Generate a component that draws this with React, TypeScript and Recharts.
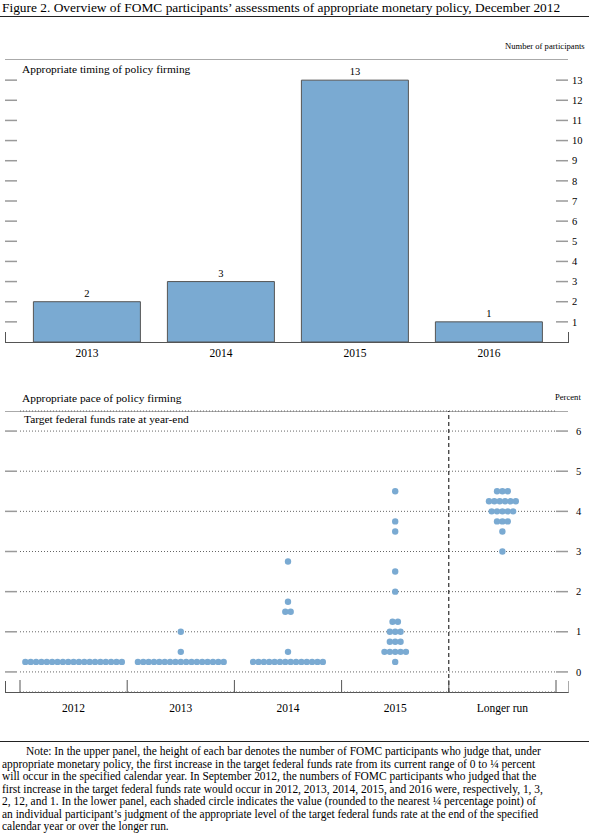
import React from 'react';
import {
  BarChart,
  Bar,
  XAxis,
  YAxis,
  LabelList,
  ScatterChart,
  Scatter,
  CartesianGrid,
  ReferenceLine,
} from 'recharts';

// upper panel: year of first increase
const timingYears = ['2013', '2014', '2015', '2016'];
const timingCounts = [2, 3, 13, 1];
const countTicks = [1, 2, 3, 4, 5, 6, 7, 8, 9, 10, 11, 12, 13];

// lower panel: [rate, number of participants]
const paceCategories = ['2012', '2013', '2014', '2015', 'Longer run'];
const dots2012: [number, number][] = [[0.25, 19]];
const dots2013: [number, number][] = [[0.25, 17], [0.5, 1], [1, 1]];
const dots2014: [number, number][] = [[0.25, 14], [0.5, 1], [1.5, 2], [1.75, 1], [2.75, 1]];
const dots2015: [number, number][] = [
  [0.25, 1], [0.5, 5], [0.75, 3], [1, 3], [1.25, 2], [2, 1], [2.5, 1], [3.5, 1], [3.75, 1], [4.5, 1],
];
const dotsLongerRun: [number, number][] = [[3, 1], [3.5, 1], [3.75, 3], [4, 5], [4.25, 6], [4.5, 3]];
const rateTicks = [0, 1, 2, 3, 4, 5, 6];

const noteLines = [
  'Note: In the upper panel, the height of each bar denotes the number of FOMC participants who judge that, under',
  'appropriate monetary policy, the first increase in the target federal funds rate from its current range of 0 to \u00BC percent',
  'will occur in the specified calendar year.  In September 2012, the numbers of FOMC participants who judged that the',
  'first increase in the target federal funds rate would occur in 2012, 2013, 2014, 2015, and 2016 were, respectively, 1, 3,',
  '2, 12, and 1.  In the lower panel, each shaded circle indicates the value (rounded to the nearest \u00BC percentage point) of',
  'an individual participant\u2019s judgment of the appropriate level of the target federal funds rate at the end of the specified',
  'calendar year or over the longer run.',
];

const FONT = '"Liberation Serif", "Times New Roman", serif';
const BLUE = '#7aaad2';
const TICK_GRAY = '#9a9a9a';
const DOT_STEP = 0.05; // horizontal spread of stacked dots, in category units

const timingData = timingYears.map((year, i) => ({ year, count: timingCounts[i] }));

const paceGroups = [dots2012, dots2013, dots2014, dots2015, dotsLongerRun];
const paceDots = paceGroups.flatMap((group, c) =>
  group.flatMap(([rate, n]) =>
    Array.from({ length: n }, (_, k) => ({ x: c + 0.5 + (k - (n - 1) / 2) * DOT_STEP, y: rate }))
  )
);

const Dot = (props: any) => <circle cx={props.cx} cy={props.cy} r={3.2} fill={BLUE} />;

// right-hand label plus the matching unlabeled mark at the left edge
const ValueTick = (props: any) => {
  const { x, y, payload } = props;
  return (
    <g>
      <line x1={5} x2={17} y1={y} y2={y} stroke={TICK_GRAY} strokeWidth={1.5} />
      <text x={x} y={y} dy="0.35em" textAnchor="start" fontSize={10.5} fill="#000" fontFamily={FONT}>
        {payload.value}
      </text>
    </g>
  );
};

// integer ticks: short upward marks at category edges; half ticks: category labels
const PaceTick = (props: any) => {
  const { x, y, payload } = props;
  const v = payload.value;
  if (Number.isInteger(v)) {
    return <line x1={x} x2={x} y1={y - 12} y2={y} stroke="#555" strokeWidth={1} />;
  }
  return (
    <text x={x} y={y + 20} textAnchor="middle" fontSize={11.5} fill="#000" fontFamily={FONT}>
      {paceCategories[Math.floor(v)]}
    </text>
  );
};

const abs = (left: number, top: number, extra: React.CSSProperties = {}): React.CSSProperties => ({
  position: 'absolute',
  left,
  top,
  ...extra,
});

export default function App() {
  return (
    <div style={{ position: 'absolute', left: 0, top: 0, width: 589, height: 834, background: '#fff', fontFamily: FONT, color: '#000', overflow: 'hidden' }}>
      <div style={abs(2, 0, { fontSize: 13.4, whiteSpace: 'nowrap' })}>
        Figure 2. Overview of FOMC participants’ assessments of appropriate monetary policy, December 2012
      </div>
      <div style={abs(0, 16, { width: 589, height: 0, borderTop: '1.5px solid #222' })} />

      {/* upper panel */}
      <div style={abs(505, 41, { fontSize: 8.6, whiteSpace: 'nowrap' })}>Number of participants</div>
      <div style={abs(5, 59, { width: 563, height: 0, borderTop: '1.5px solid #aaa' })} />
      <div style={abs(22, 63, { fontSize: 11.4, whiteSpace: 'nowrap' })}>Appropriate timing of policy firming</div>
      <div style={abs(5, 332, { width: 562, height: 10, borderLeft: '1px solid #555', borderRight: '1px solid #555', borderBottom: '1px solid #555' })} />
      <div style={abs(0, 40)}>
        <BarChart width={589} height={322} data={timingData} margin={{ top: 20, right: 0, bottom: 0, left: 20 }} barCategoryGap="10%">
          <XAxis
            dataKey="year"
            axisLine={false}
            tickLine={false}
            tickSize={0}
            tickMargin={7}
            height={20}
            tick={{ fontSize: 11.5, fill: '#000', fontFamily: FONT }}
          />
          <YAxis
            orientation="right"
            width={33}
            domain={[0, 14]}
            ticks={countTicks}
            interval={0}
            axisLine={false}
            tickSize={12}
            tickMargin={4}
            tickLine={{ stroke: TICK_GRAY, strokeWidth: 1.5 }}
            tick={<ValueTick />}
          />
          <Bar dataKey="count" fill={BLUE} stroke="#555" strokeWidth={1} isAnimationActive={false}>
            <LabelList dataKey="count" position="top" offset={5} fontSize={10.5} fill="#000" fontFamily={FONT} />
          </Bar>
        </BarChart>
      </div>

      {/* lower panel */}
      <div style={abs(22, 392, { fontSize: 11.4, whiteSpace: 'nowrap' })}>Appropriate pace of policy firming</div>
      <div style={abs(555, 392, { fontSize: 8.6, whiteSpace: 'nowrap' })}>Percent</div>
      <div style={abs(5, 411, { width: 563, height: 0, borderTop: '1.5px solid #aaa' })} />
      <div style={abs(24, 413, { fontSize: 11.4, whiteSpace: 'nowrap', background: '#fff', paddingRight: 2, zIndex: 1 })}>
        Target federal funds rate at year-end
      </div>
      <div style={abs(5, 681, { width: 562, height: 11, borderLeft: '1px solid #555', borderRight: '1px solid #aaa', borderBottom: '1px solid #555' })} />
      <div style={abs(0, 391)}>
        <ScatterChart width={589} height={325} margin={{ top: 20, right: 0, bottom: 0, left: 20 }}>
          <CartesianGrid vertical={false} stroke="#666" strokeDasharray="1 2" />
          <XAxis
            type="number"
            dataKey="x"
            domain={[0, 5]}
            ticks={[0, 0.5, 1, 1.5, 2, 2.5, 3, 3.5, 4, 4.5, 5]}
            interval={0}
            axisLine={false}
            tickLine={false}
            tickSize={0}
            tickMargin={0}
            height={24}
            tick={<PaceTick />}
          />
          <YAxis
            orientation="right"
            width={33}
            type="number"
            dataKey="y"
            domain={[-0.5, 6.5]}
            ticks={rateTicks}
            interval={0}
            axisLine={false}
            tickSize={12}
            tickMargin={8}
            tickLine={{ stroke: TICK_GRAY, strokeWidth: 1.5 }}
            tick={<ValueTick />}
          />
          <ReferenceLine x={4} stroke="#000" strokeDasharray="4 3" strokeWidth={1} />
          <Scatter data={paceDots} shape={<Dot />} isAnimationActive={false} />
        </ScatterChart>
      </div>

      {/* note */}
      <div style={abs(0, 741, { width: 589, height: 0, borderTop: '1.5px solid #222' })} />
      <div style={abs(2, 745, { fontSize: 11.45, lineHeight: '12.5px', whiteSpace: 'nowrap' })}>
        {noteLines.map((line, i) => (
          <div key={i} style={{ paddingLeft: i === 0 ? 24 : 0 }}>{line}</div>
        ))}
      </div>
    </div>
  );
}
